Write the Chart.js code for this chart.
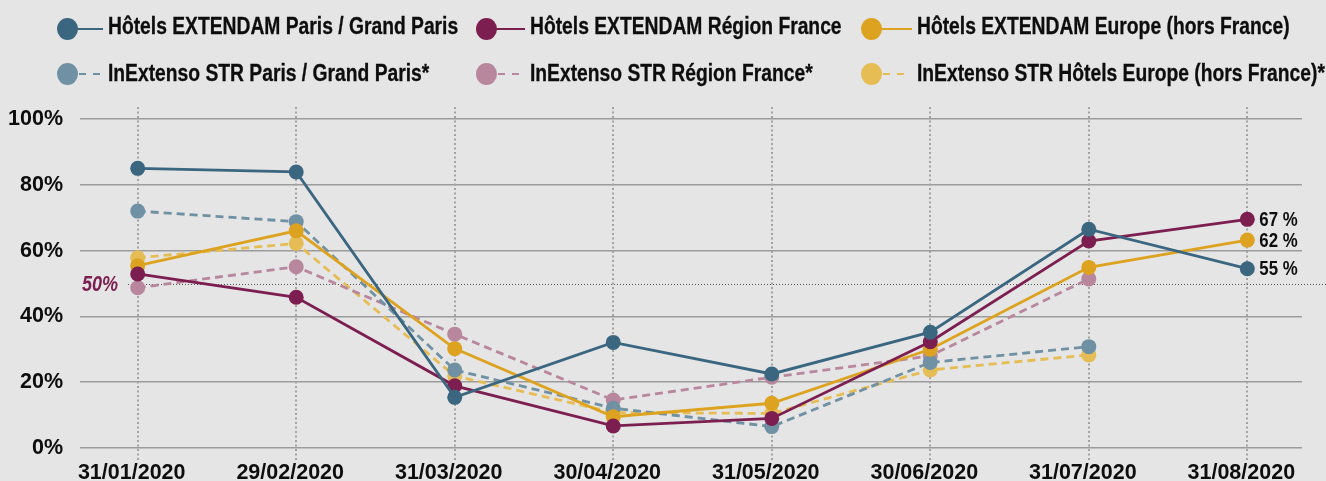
<!DOCTYPE html>
<html lang="fr">
<head>
<meta charset="utf-8">
<title>Taux d'occupation 2020</title>
<script src="https://cdn.jsdelivr.net/npm/chart.js@4/dist/chart.umd.min.js"></script>
<style>
    html, body {
        margin: 0;
        padding: 0;
        background: #e4e5e4;
        overflow: hidden;
    }
    #wrap {
        position: relative;
        width: 1326px;
        height: 481px;
        overflow: hidden;
        background: #e4e5e4;
    }
    #chart {
        position: absolute;
        left: 0;
        top: 0;
    }
    .lg-dot {
        position: absolute;
        width: 21px;
        height: 22px;
        border-radius: 50%;
    }
    .lg-line {
        position: absolute;
        height: 2.5px;
    }
    .lg-text {
        position: absolute;
        font-family: 'Liberation Sans', Arial, sans-serif;
        font-weight: bold;
        font-size: 23.5px;
        line-height: 23.5px;
        color: #0d0d0d;
        white-space: nowrap;
        transform: scaleX(0.82);
        transform-origin: 0 0;
        -webkit-text-stroke: 0.3px #0d0d0d;
    }
</style>
</head>
<body>
<div id="wrap">
    <canvas id="chart" width="1326" height="490"></canvas>
</div>
<script>
// Occupancy rate, EXTENDAM hotels vs InExtenso STR benchmark (2020)

const dates = ['31/01/2020', '29/02/2020', '31/03/2020', '30/04/2020', '31/05/2020', '30/06/2020', '31/07/2020', '31/08/2020'];

const parisExtendam  = [85.0, 83.9, 15.4, 32.1, 22.5, 35.2, 66.5, 54.5];
const regionExtendam = [52.9, 45.8, 18.9, 6.7, 9.0, 32.3, 62.9, 69.5];
const europeExtendam = [55.4, 66.0, 30.2, 9.5, 13.6, 30.0, 54.9, 63.2];
const parisStr       = [72.0, 68.8, 23.7, 12.1, 6.5, 26.0, 30.8, null];
const regionStr      = [48.7, 55.1, 34.6, 14.6, 21.5, 28.0, 51.4, null];
const europeStr      = [57.8, 62.2, 21.9, 10.8, 10.5, 23.7, 28.3, null];

const seriesNames = [
    'Hôtels EXTENDAM Paris / Grand Paris',
    'Hôtels EXTENDAM Région France',
    'Hôtels EXTENDAM Europe (hors France)',
    'InExtenso STR Paris / Grand Paris*',
    'InExtenso STR Région France*',
    'InExtenso STR Hôtels Europe (hors France)*'
];
const seriesColors = ['#3b6680', '#7c1f50', '#dda320', '#7091a3', '#b9879d', '#e6bd55'];
const seriesDashed = [false, false, false, true, true, true];
const endLabels = ['55 %', '67 %', '62 %', null, null, null];

const yTicks = [0, 20, 40, 60, 80, 100];
const refValue = 50;
const refLabel = '50%';

const FONT = "'Liberation Sans', Arial, sans-serif";
const NARROW = 0.82; // horizontal squeeze to mimic the condensed face

const allSeries = [parisExtendam, regionExtendam, europeExtendam, parisStr, regionStr, europeStr];

// Legend: 3 columns x 2 rows, built in HTML
function buildLegend() {
    const wrap = document.getElementById('wrap');
    const colDot = [67, 486, 871];
    const colText = [108, 530, 917];
    const rowDot = [29, 74];
    const rowText = [15, 62];

    seriesNames.forEach((name, i) => {
        const col = i % 3;
        const row = Math.floor(i / 3);
        const color = seriesColors[i];

        const dot = document.createElement('div');
        dot.className = 'lg-dot';
        dot.style.left = (colDot[col] - 10.5) + 'px';
        dot.style.top = (rowDot[row] - 11) + 'px';
        dot.style.background = color;
        wrap.appendChild(dot);

        const line = document.createElement('div');
        line.className = 'lg-line';
        const x0 = colDot[col] + 10;
        line.style.left = x0 + 'px';
        line.style.top = (rowDot[row] - 1.25) + 'px';
        if (seriesDashed[i]) {
            line.style.left = (x0 + 2) + 'px';
            line.style.width = '22px';
            line.style.background = 'repeating-linear-gradient(to right, ' + color + ' 0 7px, transparent 7px 14px)';
        } else {
            line.style.width = (colText[col] - 5 - x0) + 'px';
            line.style.background = color;
        }
        wrap.appendChild(line);

        const text = document.createElement('div');
        text.className = 'lg-text';
        text.style.left = colText[col] + 'px';
        text.style.top = rowText[row] + 'px';
        text.textContent = name;
        wrap.appendChild(text);
    });
}

function narrowText(ctx, text, x, y) {
    ctx.save();
    ctx.translate(x, y);
    ctx.scale(NARROW, 1);
    ctx.fillText(text, 0, 0);
    ctx.restore();
}

// Dotted vertical guides, 50% reference line and end-value labels
const overlayPlugin = {
    id: 'overlay',
    beforeDatasetsDraw(chart) {
        const ctx = chart.ctx;
        const x = chart.scales.x;
        const y = chart.scales.y;
        const area = chart.chartArea;

        ctx.save();
        ctx.strokeStyle = '#a3a3a3';
        ctx.lineWidth = 2;
        ctx.setLineDash([2, 2.5]);
        dates.forEach((d, i) => {
            const px = Math.round(x.getPixelForValue(i));
            ctx.beginPath();
            ctx.moveTo(px, area.top - 12);
            ctx.lineTo(px, area.bottom + 13);
            ctx.stroke();
        });

        // 50% reference
        const ry = Math.round(y.getPixelForValue(refValue)) + 0.5;
        ctx.strokeStyle = '#555';
        ctx.lineWidth = 1;
        ctx.setLineDash([1, 2]);
        ctx.beginPath();
        ctx.moveTo(128, ry);
        ctx.lineTo(chart.width, ry);
        ctx.stroke();
        ctx.setLineDash([]);

        ctx.fillStyle = '#7c1f50';
        ctx.font = 'italic bold 22px ' + FONT;
        ctx.textAlign = 'right';
        ctx.textBaseline = 'middle';
        narrowText(ctx, refLabel, 118, ry);
        ctx.restore();
    },
    afterDatasetsDraw(chart) {
        const ctx = chart.ctx;
        ctx.save();
        ctx.fillStyle = '#0d0d0d';
        ctx.font = 'bold 20.5px ' + FONT;
        ctx.textAlign = 'left';
        ctx.textBaseline = 'middle';
        endLabels.forEach((label, i) => {
            if (!label) return;
            const meta = chart.getDatasetMeta(i);
            const pt = meta.data[meta.data.length - 1];
            narrowText(ctx, label, pt.x + 12, pt.y + 1);
        });
        ctx.restore();
    }
};

function initChart() {
    const ctx = document.getElementById('chart').getContext('2d');

    const datasets = allSeries.map((values, i) => ({
        label: seriesNames[i],
        data: values.map((v, j) => ({ x: j, y: v })),
        borderColor: seriesColors[i],
        backgroundColor: seriesColors[i],
        pointBackgroundColor: seriesColors[i],
        borderWidth: 2.8,
        borderDash: seriesDashed[i] ? [8, 5] : [],
        pointRadius: 7.5,
        pointBorderWidth: 0,
        pointHoverRadius: 7.5,
        tension: 0,
        spanGaps: false,
        clip: false
    }));

    new Chart(ctx, {
        type: 'line',
        data: { datasets: datasets },
        options: {
            responsive: false,
            animation: false,
            layout: {
                padding: { top: 119, right: 24, left: 0, bottom: 0 }
            },
            plugins: {
                legend: { display: false },
                tooltip: { enabled: false }
            },
            scales: {
                x: {
                    type: 'linear',
                    min: -0.364,
                    max: 7.345,
                    afterBuildTicks: function(scale) {
                        scale.ticks = dates.map((d, i) => ({ value: i }));
                    },
                    afterFit: function(scale) {
                        scale.height = 42;
                    },
                    grid: { display: false, drawTicks: false },
                    border: { display: false },
                    ticks: {
                        autoSkip: false,
                        maxRotation: 0,
                        padding: 12,
                        labelOffset: -6,
                        color: '#0d0d0d',
                        font: { family: FONT, size: 21.5, weight: 'bold' },
                        callback: function(value) {
                            return dates[Math.round(value)];
                        }
                    }
                },
                y: {
                    min: 0,
                    max: 100,
                    afterBuildTicks: function(scale) {
                        scale.ticks = yTicks.map(v => ({ value: v }));
                    },
                    afterFit: function(scale) {
                        scale.width = 80;
                    },
                    grid: { color: '#9c9c9c', lineWidth: 1.5, drawTicks: false },
                    border: { display: false },
                    ticks: {
                        padding: 17,
                        color: '#0d0d0d',
                        font: { family: FONT, size: 21.5, weight: 'bold' },
                        callback: function(value) {
                            return value + '%';
                        }
                    }
                }
            }
        },
        plugins: [overlayPlugin]
    });
}

document.addEventListener('DOMContentLoaded', function() {
    buildLegend();
    initChart();
});
</script>
</body>
</html>
